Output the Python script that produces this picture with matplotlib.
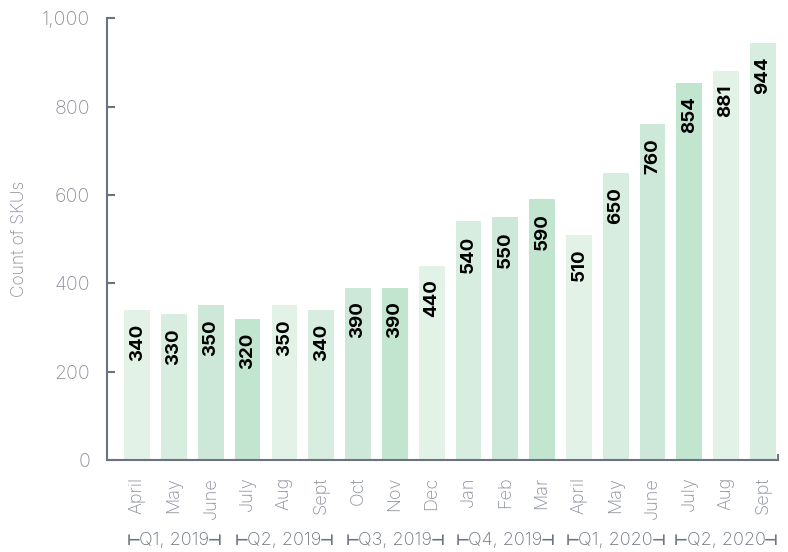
import matplotlib
matplotlib.use("Agg")
import matplotlib.pyplot as plt
import numpy as np

plt.rcParams['font.family'] = ['Inter', 'DejaVu Sans']

months = ["April", "May", "June", "July", "Aug", "Sept", "Oct", "Nov", "Dec",
          "Jan", "Feb", "Mar", "April", "May", "June", "July", "Aug", "Sept"]
skus = [340, 330, 350, 320, 350, 340, 390, 390, 440,
        540, 550, 590, 510, 650, 760, 854, 881, 944]
quarters = ["Q1, 2019", "Q2, 2019", "Q3, 2019", "Q4, 2019", "Q1, 2020", "Q2, 2020"]
shades = ["#e3f2e7", "#d7ede0", "#cde8d8", "#c2e5cf"]

grey = "#8a8f99"
dark = "#6b7280"

fig = plt.figure(figsize=(7.88, 5.52), dpi=100)
ax = fig.add_axes([0.1358, 0.1667, 0.851, 0.8003])

x = np.arange(len(skus))
colors = [shades[i % 4] for i in range(len(skus))]
bars = ax.bar(x, skus, width=0.7, color=colors)

for b, v in zip(bars, skus):
    ax.annotate(str(v), (b.get_x() + b.get_width() / 2, v), xytext=(0, -10),
                textcoords="offset points", rotation=90, ha="center", va="top",
                fontsize=13.5, fontweight="bold", color="black")

ax.set_xlim(-0.82, 17.4)
ax.set_ylim(0, 1000)
ax.set_yticks([0, 200, 400, 600, 800, 1000])
ax.set_yticklabels(["0", "200", "400", "600", "800", "1,000"])
ax.tick_params(axis="y", direction="in", length=6, width=1.5, color=dark,
               labelsize=14, labelcolor=grey, pad=12)
for t in ax.get_yticklabels():
    t.set_fontweight("light")
ax.set_xticks(x)
ax.set_xticklabels(months, rotation=90, fontsize=13, color=grey,
                   fontweight="light")
ax.tick_params(axis="x", length=0, pad=12)

for s in ["top", "right"]:
    ax.spines[s].set_visible(False)
for s in ["left", "bottom"]:
    ax.spines[s].set_color(dark)
    ax.spines[s].set_linewidth(1.5)

ax.set_ylabel("Count of SKUs", fontsize=12.5, color=grey, labelpad=10,
              fontweight="light")

# small end tick on the right of the x axis
ax.plot([1, 1], [0, 0.012], transform=ax.transAxes, color=dark, lw=1.5,
        clip_on=False)

# quarter labels with bracket ends (brackets drawn in DejaVu Sans)
renderer = fig.canvas.get_renderer()
for i, q in enumerate(quarters):
    t = ax.annotate(q, (i * 3 + 1, 0), xycoords=("data", "axes fraction"),
                    xytext=(0, -58), textcoords="offset points",
                    ha="center", va="center", fontsize=13, color=dark,
                    fontweight="light")
    half = t.get_window_extent(renderer).width / 2 * 72 / fig.dpi
    ax.annotate("\u22a2", (i * 3 + 1, 0), xycoords=("data", "axes fraction"),
                xytext=(-half + 1, -58), textcoords="offset points",
                ha="right", va="center", fontsize=11, color=dark,
                family="DejaVu Sans", fontweight="bold")
    ax.annotate("\u22a3", (i * 3 + 1, 0), xycoords=("data", "axes fraction"),
                xytext=(half - 1, -58), textcoords="offset points",
                ha="left", va="center", fontsize=11, color=dark,
                family="DejaVu Sans", fontweight="bold")

fig.savefig("out.png", dpi=100)
